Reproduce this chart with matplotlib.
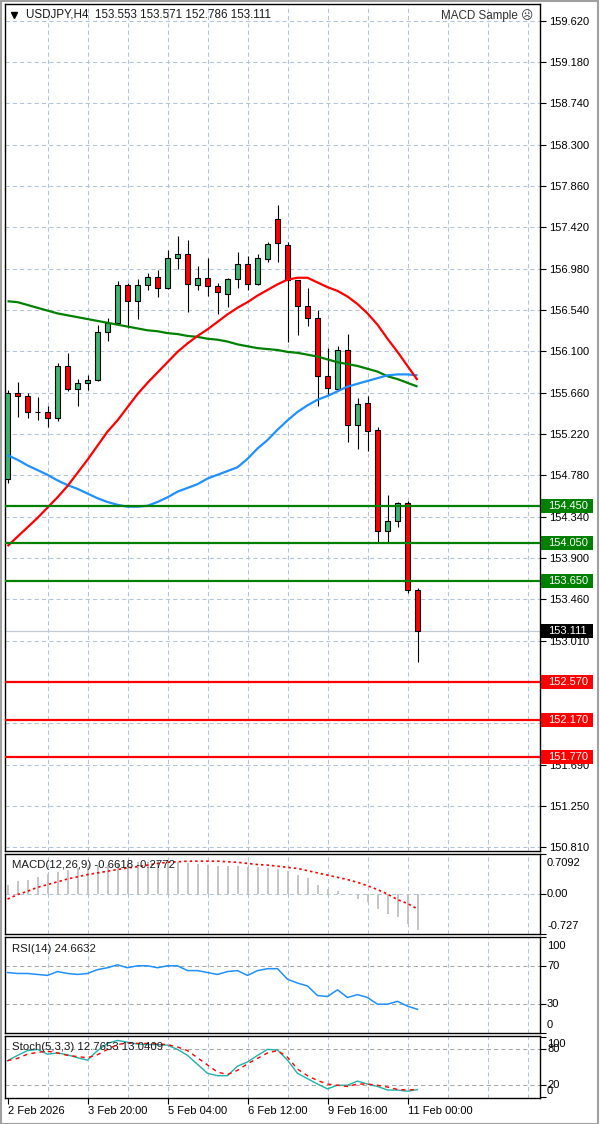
import matplotlib.pyplot as plt
from matplotlib.patches import Rectangle
from matplotlib.lines import Line2D
from matplotlib.transforms import IdentityTransform

plt.rcParams['font.family'] = ['Liberation Sans', 'DejaVu Sans']
plt.rcParams['font.size'] = 8

W, H = 600, 1124

# ---- price data (H4 bars) ----
opens = [154.74, 155.65, 155.62, 155.45, 155.45, 155.39, 155.94, 155.69, 155.76, 155.79,
         156.30, 156.40, 156.80, 156.63, 156.80, 156.89, 156.77, 157.09, 157.13, 156.80,
         156.88, 156.79, 156.71, 156.87, 157.03, 156.81, 157.08, 157.51, 157.23, 156.86,
         156.58, 156.45, 155.83, 155.69, 156.11, 155.31, 155.55, 155.26, 154.18, 154.29,
         154.48, 153.553]
highs = [155.68, 155.77, 155.65, 155.61, 155.51, 155.97, 156.08, 155.80, 155.84, 156.38,
         156.45, 156.85, 156.82, 156.87, 156.93, 156.96, 157.18, 157.32, 157.28, 157.01,
         157.09, 156.82, 156.88, 157.15, 157.11, 157.13, 157.26, 157.66, 157.26, 156.86,
         156.77, 156.54, 156.13, 156.15, 156.28, 155.60, 155.62, 155.29, 154.56, 154.49,
         154.50, 153.571]
lows = [154.69, 155.40, 155.38, 155.36, 155.29, 155.35, 155.67, 155.51, 155.68, 155.78,
        156.21, 156.39, 156.34, 156.44, 156.75, 156.67, 156.76, 156.97, 156.51, 156.75,
        156.69, 156.49, 156.57, 156.77, 156.75, 156.80, 157.05, 157.05, 156.20, 156.27,
        156.37, 155.51, 155.63, 155.69, 155.13, 155.06, 155.03, 154.06, 154.06, 154.22,
        153.52, 152.786]
closes = [155.65, 155.62, 155.45, 155.45, 155.39, 155.94, 155.69, 155.76, 155.79, 156.30,
          156.40, 156.80, 156.63, 156.80, 156.89, 156.77, 157.09, 157.13, 156.81, 156.88,
          156.79, 156.73, 156.87, 157.03, 156.81, 157.09, 157.24, 157.25, 156.86, 156.58,
          156.45, 155.83, 155.70, 156.11, 155.31, 155.53, 155.25, 154.18, 154.29, 154.48,
          153.55, 153.111]

ma_red = [154.02, 154.12, 154.22, 154.32, 154.43, 154.54, 154.66, 154.80, 154.94, 155.09,
          155.24, 155.36, 155.50, 155.64, 155.76, 155.87, 155.98, 156.09, 156.18, 156.26,
          156.33, 156.41, 156.49, 156.56, 156.62, 156.69, 156.75, 156.81, 156.86, 156.88,
          156.88, 156.83, 156.78, 156.74, 156.68, 156.60, 156.50, 156.38, 156.23, 156.09,
          155.94, 155.79]
ma_blue = [154.99, 154.94, 154.88, 154.83, 154.78, 154.72, 154.67, 154.63, 154.58, 154.53,
           154.49, 154.46, 154.44, 154.44, 154.45, 154.49, 154.54, 154.60, 154.64, 154.68,
           154.74, 154.78, 154.82, 154.86, 154.95, 155.06, 155.15, 155.26, 155.36, 155.45,
           155.52, 155.58, 155.62, 155.67, 155.72, 155.75, 155.78, 155.81, 155.84, 155.85,
           155.85, 155.84]
ma_green = [156.63, 156.62, 156.59, 156.56, 156.53, 156.50, 156.48, 156.46, 156.44, 156.42,
            156.40, 156.38, 156.36, 156.34, 156.32, 156.31, 156.29, 156.28, 156.26, 156.25,
            156.23, 156.22, 156.20, 156.17, 156.15, 156.13, 156.12, 156.11, 156.09, 156.08,
            156.06, 156.04, 156.01, 155.98, 155.96, 155.94, 155.91, 155.88, 155.83, 155.80,
            155.76, 155.72]

resistance = [154.450, 154.050, 153.650]
support = [152.570, 152.170, 151.770]

price_ticks = [159.620, 159.180, 158.739, 158.299, 157.858, 157.418, 156.977, 156.537,
               156.096, 155.656, 155.215, 154.775, 154.334, 153.894, 153.453, 153.013,
               152.572, 152.132, 151.691, 151.251, 150.810]
price_labels = ['159.620', '159.180', '158.740', '158.300', '157.860', '157.420', '156.980',
                '156.540', '156.100', '155.660', '155.220', '154.780', '154.340', '153.900',
                '153.460', '153.010', '152.570', '152.130', '151.690', '151.250', '150.810']

# ---- indicators ----
macd_main = [0.15, 0.22, 0.25, 0.30, 0.35, 0.39, 0.42, 0.45, 0.47, 0.50,
             0.51, 0.54, 0.55, 0.57, 0.57, 0.58, 0.58, 0.57, 0.55, 0.53,
             0.51, 0.50, 0.49, 0.49, 0.48, 0.47, 0.46, 0.44, 0.41, 0.33,
             0.27, 0.16, 0.08, 0.04, -0.01, -0.09, -0.15, -0.27, -0.36, -0.42,
             -0.55, -0.6618]
macd_signal = [-0.10, -0.02, 0.04, 0.11, 0.16, 0.21, 0.26, 0.30, 0.34, 0.37,
               0.40, 0.43, 0.46, 0.48, 0.51, 0.54, 0.56, 0.57, 0.58, 0.58,
               0.58, 0.58, 0.57, 0.56, 0.54, 0.52, 0.51, 0.49, 0.47, 0.45,
               0.41, 0.37, 0.33, 0.29, 0.25, 0.20, 0.14, 0.07, -0.01, -0.11,
               -0.18, -0.2772]
rsi = [63, 62, 62, 61, 60, 64, 62, 61, 62, 66,
       68, 71, 68, 70, 70, 68, 70, 70, 65, 65,
       63, 61, 64, 65, 60, 65, 67, 67, 56, 52,
       49, 39, 38, 45, 37, 40, 37, 30, 30, 33,
       28, 24.6632]
stoch_main = [61, 70, 78, 80, 72, 74, 71, 66, 62, 78,
              90, 95, 92, 89, 88, 88, 87, 80, 70, 55,
              40, 36, 36, 52, 59, 70, 80, 79, 62, 40,
              31, 22, 14, 20, 20, 27, 22, 18, 12, 12,
              10, 12.7653]
stoch_signal = [61, 65, 72, 75, 77, 74, 70, 68, 66, 71,
                80, 88, 91, 90, 90, 89, 88, 84, 78, 66,
                54, 42, 38, 45, 56, 65, 74, 78, 67, 47,
                36, 28, 22, 20, 18, 22, 22, 20, 17, 13,
                12, 13.0409]

time_ticks = [0, 8, 16, 24, 32, 40]
time_labels = ['2 Feb 2026', '3 Feb 20:00', '5 Feb 04:00', '6 Feb 12:00',
               '9 Feb 16:00', '11 Feb 00:00']

macd_ticks = [0.7092, 0.0, -0.727]
macd_tick_labels = ['0.7092', '0.00', '-0.727']
rsi_ticks = [100, 70, 30, 0]
stoch_ticks = [100, 80, 20, 0]

bars = list(range(len(closes)))
grid_bars = list(range(4, 53, 4))

GRID = '#b0c4de'
LEVEL = '#a8a8a8'
BULL = '#3cb371'
BEAR = '#ff0000'
GREEN = '#008000'
TXT = '#1a1a1a'

fig = plt.figure(figsize=(W / 100, H / 100), dpi=100)
fig.patch.set_facecolor('white')


def px_axes(x0, y0, x1, y1):
    ax = fig.add_axes([x0 / W, 1 - y1 / H, (x1 - x0) / W, (y1 - y0) / H])
    ax.set_facecolor('white')
    ax.set_xlim(-0.25, 53.25)
    for s in ax.spines.values():
        s.set_linewidth(1.0)
        s.set_color('black')
    ax.tick_params(axis='x', length=0, labelbottom=False)
    ax.yaxis.tick_right()
    ax.tick_params(axis='y', direction='out', length=4, width=0.8, pad=2.5,
                   labelsize=8, colors='black')
    for g in grid_bars:
        ax.axvline(g, color=GRID, lw=0.75, dashes=(4, 3), zorder=0.5)
    return ax


def side_labels(ax, ticks, labels, shifts):
    ax.set_yticks(ticks, [''] * len(ticks))
    for v, lab, dy in zip(ticks, labels, shifts):
        ax.annotate(lab, xy=(1, v), xycoords=('axes fraction', 'data'),
                    xytext=(7, dy), textcoords='offset pixels', ha='left',
                    va='center', fontsize=8, color='black', annotation_clip=False)


# ---- main price panel ----
ax = px_axes(5, 4, 540, 851)
ax.set_ylim(150.770, 159.798)
for t in price_ticks:
    ax.axhline(t, color=GRID, lw=0.75, dashes=(4, 3), zorder=0.5)
ax.set_yticks(price_ticks, price_labels)

ax.axhline(closes[-1], color='#c3cad6', lw=0.9, zorder=1)

for i, o, h, l, c in zip(bars, opens, highs, lows, closes):
    ax.vlines(i, l, h, color='black', lw=0.8, zorder=3)
    ax.bar(i, abs(c - o), bottom=min(o, c), width=0.55,
           color=BULL if c >= o else BEAR, edgecolor='black', lw=0.8, zorder=4)

ax.plot(bars, ma_green, color=GREEN, lw=1.6, zorder=5, solid_capstyle='butt')
ax.plot(bars, ma_blue, color='#1e90ff', lw=1.6, zorder=5, solid_capstyle='butt')
ax.plot(bars, ma_red, color='#ff0000', lw=1.6, zorder=5, solid_capstyle='butt')

for v in resistance:
    ax.axhline(v, color=GREEN, lw=1.6, zorder=6)
for v in support:
    ax.axhline(v, color='#ff0000', lw=1.6, zorder=6)


def tag(value, color):
    y = ax.transData.transform((0, value))[1]
    fig.add_artist(Rectangle((541, y - 7), 52, 14, facecolor=color, edgecolor='none',
                             transform=IdentityTransform(), zorder=10))
    fig.text(548, y, f'{value:.3f}', color='white', ha='left', va='center',
             fontsize=8, transform=IdentityTransform(), zorder=11)


for v in resistance:
    tag(v, GREEN)
for v in support:
    tag(v, '#ff0000')
tag(closes[-1], 'black')

fig.add_artist(Line2D([13.5 / W], [1 - 14.5 / H], marker='v', ms=4.5, color='black',
                      lw=0, transform=fig.transFigure))
fig.text(26 / W, 1 - 14.5 / H,
         f'USDJPY,H4  {opens[-1]:.3f} {highs[-1]:.3f} {lows[-1]:.3f} {closes[-1]:.3f}',
         ha='left', va='center', fontsize=8.4, color=TXT)
fig.text(533 / W, 1 - 16 / H, 'MACD Sample \u2639', ha='right', va='center',
         fontsize=8.4, color='#303030')

# ---- MACD ----
am = px_axes(5, 854, 540, 934)
am.set_ylim(-0.727, 0.7092)
am.axhline(0, color=GRID, lw=0.75, dashes=(4, 3), zorder=0.5)
am.vlines(bars, 0, macd_main, color='#c0c0c0', lw=1.3, zorder=2)
am.plot(bars, macd_signal, color='#ff0000', lw=1.2, dashes=(1.5, 1.8), zorder=3)
side_labels(am, macd_ticks, macd_tick_labels, [-8.5, 0, 8])
fig.text(12 / W, 1 - 865 / H,
         f'MACD(12,26,9) {macd_main[-1]:.4f} {macd_signal[-1]:.4f}',
         ha='left', va='center', fontsize=8.2, color=TXT)

# ---- RSI ----
ar = px_axes(5, 937, 540, 1033)
ar.set_ylim(0, 100)
for v in (70, 30):
    ar.axhline(v, color=LEVEL, lw=0.75, dashes=(4, 3), zorder=0.5)
ar.plot(bars, rsi, color='#1e90ff', lw=1.1, zorder=3)
side_labels(ar, rsi_ticks, [str(v) for v in rsi_ticks], [-9, 0, 0, 8.5])
fig.text(12 / W, 1 - 948.5 / H, f'RSI(14) {rsi[-1]:.4f}',
         ha='left', va='center', fontsize=8.2, color=TXT)

# ---- Stochastic ----
ast = px_axes(5, 1036, 540, 1098)
ast.set_ylim(-1.3, 102.4)
for v in (80, 20):
    ast.axhline(v, color=LEVEL, lw=0.75, dashes=(4, 3), zorder=0.5)
ast.plot(bars, stoch_main, color='#20b2aa', lw=1.0, zorder=3)
ast.plot(bars, stoch_signal, color='#ff0000', lw=1.0, dashes=(3, 3), zorder=4)
side_labels(ast, stoch_ticks, [str(v) for v in stoch_ticks], [-6.5, 0, 0, 6.5])
fig.text(12 / W, 1 - 1046.5 / H,
         f'Stoch(5,3,3) {stoch_main[-1]:.4f} {stoch_signal[-1]:.4f}',
         ha='left', va='center', fontsize=8.2, color=TXT)

ast.set_xticks(time_ticks, time_labels)
ast.tick_params(axis='x', direction='out', length=4, width=0.8, pad=2,
                labelbottom=True, labelsize=8, colors='black')
for lab in ast.get_xticklabels():
    lab.set_ha('left')

# window frame
fig.add_artist(Rectangle((0.5, 0.5), 597, H - 1, fill=False, edgecolor='#a0a0a0',
                         lw=1.5, transform=IdentityTransform()))

fig.savefig('out.png', dpi=100, facecolor='white')
